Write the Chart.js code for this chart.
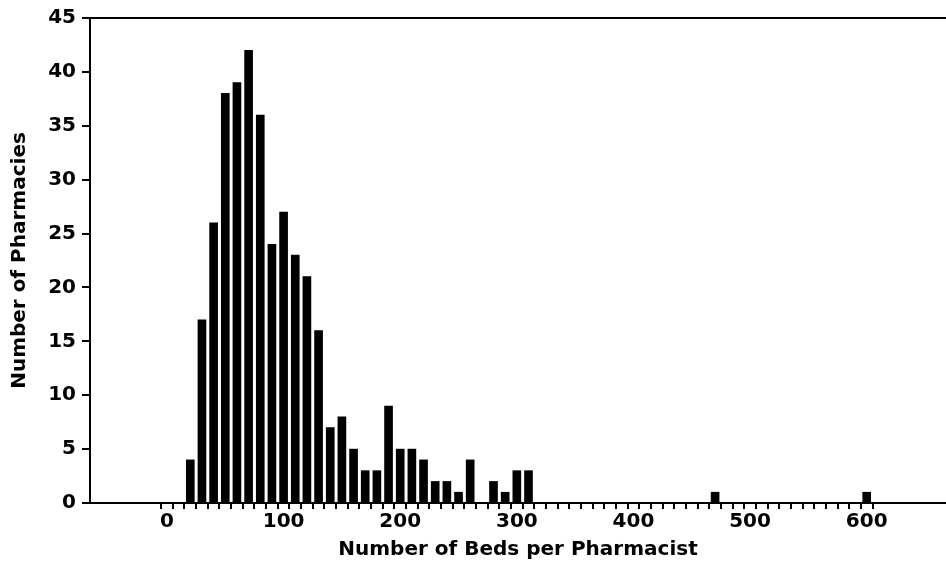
<!DOCTYPE html>
<html>
<head>
<meta charset="utf-8">
<script src="https://cdn.jsdelivr.net/npm/chart.js@4"></script>
<style>
  html, body { margin: 0; padding: 0; background: #fff; }
  #wrap { width: 946px; height: 562px; }
</style>
</head>
<body>
<div id="wrap"><canvas id="histo"></canvas></div>
<script>
// bin centres (beds per pharmacist) and counts
const bedBins = [20, 30, 40, 50, 60, 70, 80, 90, 100, 110, 120, 130, 140, 150, 160,
                 170, 180, 190, 200, 210, 220, 230, 240, 250, 260, 280, 290, 300, 310, 470, 600];
const pharmacyCounts = [4, 17, 26, 38, 39, 42, 36, 24, 27, 23, 21, 16, 7, 8, 5,
                        3, 3, 9, 5, 5, 4, 2, 2, 1, 4, 2, 1, 3, 3, 1, 1];
const xLabels = [0, 100, 200, 300, 400, 500, 600];
const yLabels = [0, 5, 10, 15, 20, 25, 30, 35, 40, 45];

const font = { family: 'DejaVu Sans', size: 20, weight: 'bold' };

HandleHistogram = (canvasId) => {
    const ctx = document.getElementById(canvasId);

    const points = bedBins.map((b, i) => ({ x: b, y: pharmacyCounts[i] }));

    new Chart(ctx, {
        type: 'bar',
        data: {
            datasets: [{
                data: points,
                backgroundColor: '#000',
                borderWidth: 0,
                barThickness: 8
            }]
        },
        options: {
            responsive: true,
            maintainAspectRatio: false,
            animation: false,
            layout: { padding: { top: 17, right: 0, left: 8, bottom: 0 } },
            plugins: { legend: { display: false }, tooltip: { enabled: false } },
            scales: {
                x: {
                    type: 'linear',
                    offset: false,
                    min: -66,
                    max: 668,
                    afterBuildTicks: (axis) => {
                        const t = [];
                        for (let v = 0; v <= 600; v += 10) t.push({ value: v });
                        axis.ticks = t;
                    },
                    afterFit: (axis) => { axis.height = 59; },
                    ticks: {
                        autoSkip: false,
                        maxRotation: 0,
                        color: '#000',
                        font: font,
                        padding: 1,
                        callback: (v) => xLabels.includes(v) ? String(v) : ''
                    },
                    grid: {
                        drawOnChartArea: false,
                        drawTicks: true,
                        tickLength: 6,
                        color: '#000',
                        lineWidth: 2
                    },
                    border: { display: true, color: '#000', width: 2 },
                    title: {
                        display: true,
                        text: 'Number of Beds per Pharmacist',
                        color: '#000',
                        font: font,
                        padding: { top: 0, bottom: 0 }
                    }
                },
                xTop: {
                    type: 'linear',
                    position: 'top',
                    offset: false,
                    min: -66,
                    max: 668,
                    ticks: { display: false },
                    grid: { display: false },
                    border: { display: true, color: '#000', width: 2 },
                    afterFit: (axis) => { axis.height = 0; }
                },
                y: {
                    min: 0,
                    max: 45,
                    afterBuildTicks: (axis) => {
                        axis.ticks = yLabels.map(v => ({ value: v }));
                    },
                    afterFit: (axis) => { axis.width = 82; },
                    ticks: {
                        color: '#000',
                        font: font,
                        padding: 6
                    },
                    grid: {
                        drawOnChartArea: false,
                        drawTicks: true,
                        tickLength: 8,
                        color: '#000',
                        lineWidth: 2
                    },
                    border: { display: true, color: '#000', width: 2 },
                    title: {
                        display: true,
                        text: 'Number of Pharmacies',
                        color: '#000',
                        font: font,
                        padding: { top: 0, bottom: 0 }
                    }
                }
            }
        }
    });
}

HandleHistogram('histo');
</script>
</body>
</html>
